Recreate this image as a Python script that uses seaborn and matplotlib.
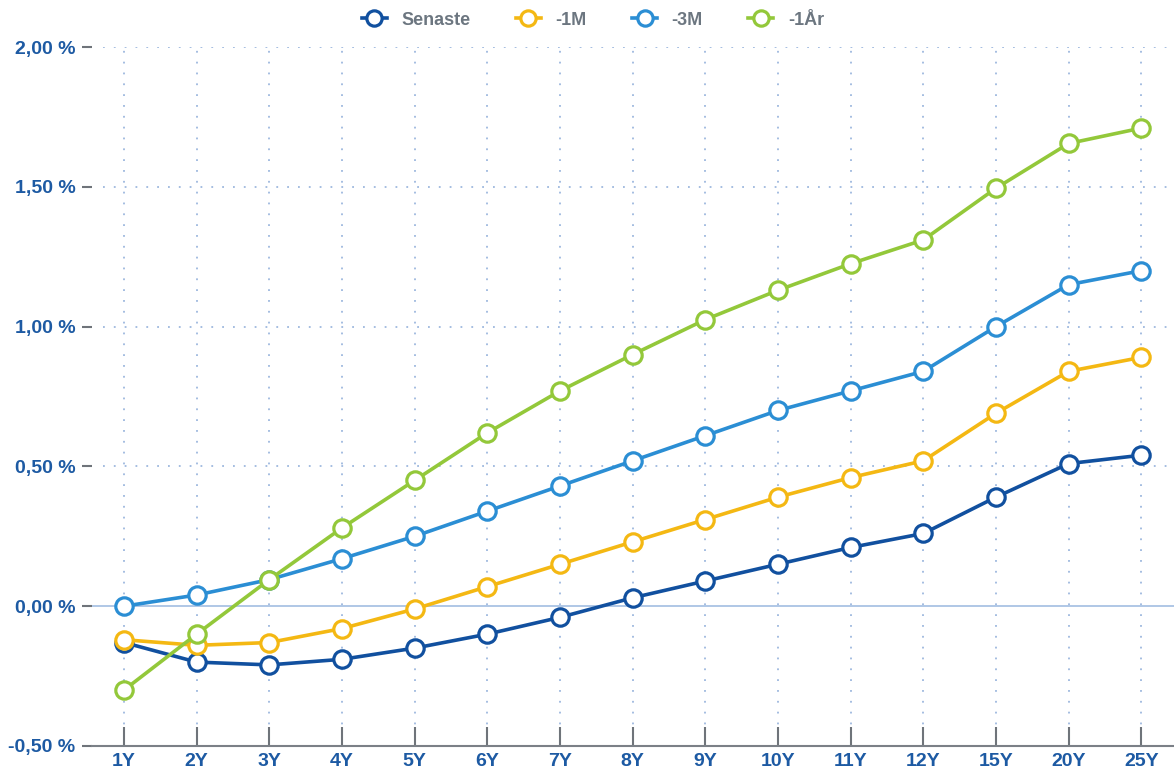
import matplotlib.pyplot as plt
import matplotlib.ticker as mticker
import seaborn as sns
import pandas as pd

# löptider och räntenivåer (%)
tenors = ["1Y", "2Y", "3Y", "4Y", "5Y", "6Y", "7Y", "8Y", "9Y", "10Y", "11Y", "12Y", "15Y", "20Y", "25Y"]
senaste = [-0.13, -0.20, -0.21, -0.19, -0.15, -0.10, -0.04, 0.03, 0.09, 0.15, 0.21, 0.26, 0.39, 0.51, 0.54]
minus_1m = [-0.12, -0.14, -0.13, -0.08, -0.01, 0.07, 0.15, 0.23, 0.31, 0.39, 0.46, 0.52, 0.69, 0.84, 0.89]
minus_3m = [0.00, 0.04, 0.095, 0.17, 0.25, 0.34, 0.43, 0.52, 0.61, 0.70, 0.77, 0.84, 1.00, 1.15, 1.20]
minus_1ar = [-0.30, -0.10, 0.095, 0.28, 0.45, 0.62, 0.77, 0.90, 1.025, 1.13, 1.225, 1.31, 1.495, 1.655, 1.71]

series_names = ["Senaste", "-1M", "-3M", "-1År"]
colors = ["#11509f", "#f4b813", "#2b8ed4", "#93c83a"]

df = pd.DataFrame({
    "pos": list(range(len(tenors))) * 4,
    "value": senaste + minus_1m + minus_3m + minus_1ar,
    "serie": [s for s in series_names for _ in tenors],
})

plt.rcParams["font.family"] = ["Liberation Sans", "DejaVu Sans"]
fig = plt.figure(figsize=(11.74, 7.76), dpi=100)
ax = fig.add_axes([0.0784, 0.0387, 0.9216, 0.9007])

# nollinje och rutnät
ax.axhline(0, color="#a9c3e4", lw=1.3, zorder=1)
for yv in [0.5, 1.0, 1.5, 2.0]:
    ax.axhline(yv, xmin=0.01, color="#9db8de", lw=1.3, ls=(0, (1, 5)), zorder=0)
for i in range(len(tenors)):
    ax.axvline(i, color="#9db8de", lw=1.3, ls=(0, (1, 5)), zorder=0)

sns.lineplot(data=df, x="pos", y="value", hue="serie", palette=colors,
             hue_order=series_names, marker="o", markersize=12.5,
             markerfacecolor="white", markeredgewidth=2.3, linewidth=2.6,
             ax=ax, legend=False, zorder=3)
# marker edge colours follow line colour
for line, c in zip(ax.get_lines()[-4:], colors):
    line.set_markeredgecolor(c)

ax.set_xlim(-0.44, 14.45)
ax.set_ylim(-0.5, 2.0)
ax.set_xticks(range(len(tenors)))
ax.set_xticklabels(tenors)
ax.yaxis.set_major_locator(mticker.MultipleLocator(0.5))
ax.yaxis.set_major_formatter(mticker.FuncFormatter(lambda v, p: f"{v:.2f} %".replace(".", ",")))
ax.set_xlabel("")
ax.set_ylabel("")

for side in ["top", "right", "left"]:
    ax.spines[side].set_visible(False)
ax.spines["bottom"].set_color("#7b8087")
ax.spines["bottom"].set_linewidth(1.5)

ax.tick_params(axis="x", direction="in", length=14, width=1.5, color="#6f747a",
               labelsize=14, labelcolor="#1d5aa3", pad=5)
ax.tick_params(axis="y", direction="out", length=7, width=1.5, color="#6f747a",
               labelsize=14, labelcolor="#1d5aa3", pad=5)
for lbl in ax.get_xticklabels() + ax.get_yticklabels():
    lbl.set_fontweight("bold")

# legend
handles = [plt.Line2D([], [], color=c, lw=2.6, marker="o", markersize=11,
                      markerfacecolor="white", markeredgecolor=c, markeredgewidth=2.3)
           for c in colors]
leg = fig.legend(handles, series_names, loc="center", bbox_to_anchor=(0.505, 0.974),
                 ncol=4, frameon=False, handlelength=1.4, handletextpad=0.8,
                 columnspacing=2.5, prop={"size": 13, "weight": "bold"})
for t in leg.get_texts():
    t.set_color("#6c7680")

fig.savefig("out.png", dpi=100)
